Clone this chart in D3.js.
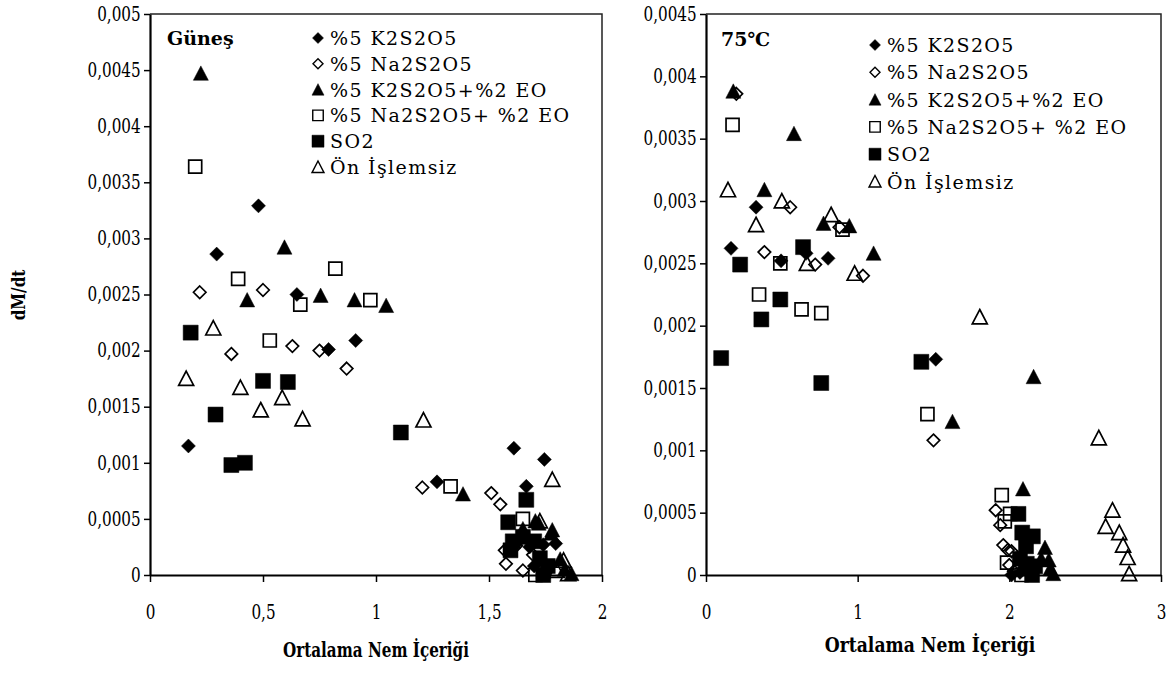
<!DOCTYPE html>
<html>
<head>
<meta charset="utf-8">
<script src="https://cdn.jsdelivr.net/npm/d3@7"></script>
<style>
  body { margin: 0; background: #fff; }
</style>
</head>
<body>
<svg id="chart" width="1173" height="673"></svg>
<script>
/*
/   Data
*/

const seriesNames = ["%5 K2S2O5", "%5 Na2S2O5", "%5 K2S2O5+%2 EO", "%5 Na2S2O5+ %2 EO", "SO2", "Ön İşlemsiz"];

// Güneş (sun dried)
const gunesK2 = [[0.17,0.00115],[0.295,0.00286],[0.48,0.00329],[0.65,0.0025],[0.79,0.00201],[0.91,0.00209],[1.27,0.00083],[1.61,0.00113],[1.745,0.00103],[1.665,0.00079],[1.795,0.00028],[1.68,0.00025],[1.74,0.00027],[1.62,0.00028],[1.7,0.00008]];
const gunesNa = [[0.22,0.00252],[0.36,0.00197],[0.5,0.00254],[0.63,0.00204],[0.75,0.002],[0.87,0.00184],[1.205,0.00078],[1.51,0.00073],[1.55,0.00063],[1.575,0.0001],[1.57,0.00022],[1.65,0.00004],[1.695,0.00018],[1.62,0.00026]];
const gunesK2EO = [[0.225,0.00446],[0.43,0.00244],[0.595,0.00291],[0.755,0.00248],[0.905,0.00244],[1.045,0.00239],[1.385,0.00071],[1.705,0.00047],[1.775,0.00036],[1.65,0.0004],[1.78,0.00039],[1.815,0.00013],[1.835,0.00004],[1.865,0],[1.72,0.00045]];
const gunesNaEO = [[0.2,0.00364],[0.39,0.00264],[0.53,0.00209],[0.665,0.00241],[0.82,0.00273],[0.975,0.00245],[1.33,0.00079],[1.65,0.0005],[1.705,0],[1.74,0.00003]];
const gunesSO2 = [[0.18,0.00216],[0.29,0.00143],[0.36,0.00098],[0.42,0.001],[0.5,0.00173],[0.61,0.00172],[1.11,0.00127],[1.665,0.00067],[1.585,0.00047],[1.605,0.0003],[1.595,0.00022],[1.65,0.00034],[1.725,0.00015],[1.74,0],[1.7,0.0003],[1.76,0.00008]];
const gunesOn = [[0.16,0.00174],[0.28,0.00219],[0.4,0.00166],[0.49,0.00146],[0.585,0.00157],[0.675,0.00138],[1.21,0.00137],[1.78,0.00084],[1.725,0.00047],[1.83,0.00012],[1.85,0],[1.8,0.00003]];

// 75℃ (oven dried)
const firinK2 = [[0.165,0.00262],[0.33,0.00295],[0.495,0.00252],[0.66,0.00258],[0.805,0.00254],[1.515,0.00173],[2.015,0],[2.07,0.00002],[2.1,0.00006]];
const firinNa = [[0.2,0.00386],[0.385,0.00259],[0.555,0.00295],[0.72,0.00249],[0.88,0.00279],[1.035,0.0024],[1.5,0.00108],[1.91,0.00052],[1.94,0.0004],[1.96,0.00024],[1.99,0.0002],[2.015,0.00019],[2.03,0.00003],[2.0,0.00008]];
const firinK2EO = [[0.18,0.00387],[0.385,0.00308],[0.58,0.00353],[0.775,0.00281],[0.945,0.00279],[1.105,0.00257],[1.625,0.00122],[2.16,0.00158],[2.09,0.00068],[2.235,0.00021],[2.21,0.00012],[2.26,0.00011],[2.27,0.00004],[2.29,0]];
const firinNaEO = [[0.175,0.00361],[0.35,0.00225],[0.49,0.0025],[0.63,0.00213],[0.76,0.0021],[0.9,0.00277],[1.46,0.00129],[1.95,0.00064],[2.005,0.00049],[1.97,0.00043],[1.985,0.0001],[2.08,0]];
const firinSO2 = [[0.1,0.00174],[0.225,0.00249],[0.365,0.00205],[0.49,0.00221],[0.64,0.00263],[0.76,0.00154],[1.42,0.00171],[2.06,0.00049],[2.085,0.00034],[2.155,0.00031],[2.11,0.00023],[2.07,0.00013],[2.17,0.00007],[2.15,0],[2.115,0.00009]];
const firinOn = [[0.145,0.00308],[0.33,0.0028],[0.5,0.00299],[0.665,0.00249],[0.825,0.00288],[0.98,0.00241],[1.805,0.00206],[2.59,0.00109],[2.68,0.00051],[2.635,0.00038],[2.725,0.00033],[2.75,0.00023],[2.78,0.00013],[2.79,0]];

const gunesXTicks = [0, 0.5, 1, 1.5, 2];
const gunesYTicks = [0, 0.0005, 0.001, 0.0015, 0.002, 0.0025, 0.003, 0.0035, 0.004, 0.0045, 0.005];
const firinXTicks = [0, 1, 2, 3];
const firinYTicks = [0, 0.0005, 0.001, 0.0015, 0.002, 0.0025, 0.003, 0.0035, 0.004, 0.0045];

/*
/   Marker styles (order = Excel series order)
*/

const markers = [
    { shape: "diamond",  filled: true  },
    { shape: "diamond",  filled: false },
    { shape: "triangle", filled: true  },
    { shape: "square",   filled: false },
    { shape: "square",   filled: true  },
    { shape: "triangle", filled: false }
];

// only serif face installed; squeezed a bit to look like Times
const serif = "DejaVu Serif";

function markerPath(shape, s)
{
    const r = s / 2;
    if (shape == "diamond") return `M0,${-r}L${r},0L0,${r}L${-r},0Z`;
    if (shape == "square") return `M${-r},${-r}h${s}v${s}h${-s}Z`;
    // triangle
    return `M0,${-0.58 * s}L${r},${0.38 * s}L${-r},${0.38 * s}Z`;
}

function markerSize(m, big)
{
    if (m.shape == "diamond") return big ? (m.filled ? 14 : 12.5) : (m.filled ? 11 : 10);
    if (m.shape == "square") return big ? (m.filled ? 15 : 13) : (m.filled ? 12 : 10.5);
    return big ? 15 : 12;
}

// text drawn at (x, y), squeezed horizontally by sx
function squeezedText(parent, x, y, sx, txt)
{
    return parent.append("text")
        .attr("transform", `translate(${x},${y}) scale(${sx},1)`)
        .attr("font-family", serif)
        .text(txt);
}

const svg = d3.select("#chart");

const fmt = (d) => d == 0 ? "0" : String(+d.toFixed(4)).replace(".", ",");

/*
/   Draw one panel
*/

function drawPanel(p)
{
    const x = d3.scaleLinear().domain(p.xDomain).range([p.left, p.right]);
    const y = d3.scaleLinear().domain(p.yDomain).range([p.bottom, p.top]);

    const g = svg.append("g");

    // frame (top and right)
    g.append("path")
        .attr("d", `M${p.left},${p.top}H${p.right}V${p.bottom}`)
        .attr("fill", "none")
        .attr("stroke", "#222")
        .attr("stroke-width", 1.5);

    const yAxis = g.append("g")
        .attr("transform", `translate(${p.left},0)`)
        .call(d3.axisLeft(y).tickValues(p.yTicks).tickFormat(fmt).tickSize(6).tickSizeOuter(0).tickPadding(6));

    const xAxis = g.append("g")
        .attr("transform", `translate(0,${p.bottom})`)
        .call(d3.axisBottom(x).tickValues(p.xTicks).tickFormat(fmt).tickSize(7).tickSizeOuter(0).tickPadding(23));

    [yAxis, xAxis].forEach(a => {
        a.attr("font-family", serif).attr("font-size", 19.5);
        a.select(".domain").attr("stroke", "#000").attr("stroke-width", 2.2);
        a.selectAll(".tick line").attr("stroke", "#000").attr("stroke-width", 1.5);
        a.selectAll("text").attr("fill", "#000").attr("transform", "scale(0.78,1)");
    });

    // points
    p.series.forEach((data, k) => {
        const m = markers[k];
        const s = markerSize(m, true);
        g.append("g")
            .selectAll("path")
            .data(data)
            .join("path")
            .attr("transform", (d) => `translate(${x(d[0])},${y(d[1])})`)
            .attr("d", markerPath(m.shape, s))
            .attr("fill", m.filled ? "#000" : "none")
            .attr("stroke", "#000")
            .attr("stroke-width", m.filled ? 0.5 : 1.7);
    });

    // panel title
    g.append("text")
        .attr("x", p.titleX)
        .attr("y", p.titleY)
        .attr("font-family", serif)
        .attr("font-weight", "bold")
        .attr("font-size", 19)
        .text(p.title);

    // legend
    const leg = g.append("g");
    seriesNames.forEach((name, k) => {
        const m = markers[k];
        const cy = p.legY + k * p.legStep;
        leg.append("path")
            .attr("transform", `translate(${p.legX},${cy + (m.shape == "triangle" ? 1 : 0)})`)
            .attr("d", markerPath(m.shape, markerSize(m, false)))
            .attr("fill", m.filled ? "#000" : "none")
            .attr("stroke", "#000")
            .attr("stroke-width", m.filled ? 0.5 : 1.4);
        leg.append("text")
            .attr("x", p.legX + 12)
            .attr("y", cy + 7)
            .attr("font-family", serif)
            .attr("font-size", 19)
            .attr("letter-spacing", 1.4)
            .text(name);
    });

    // x axis title
    squeezedText(g, p.xTitleX, p.xTitleY, p.xTitleScale, "Ortalama Nem İçeriği")
        .attr("text-anchor", "middle")
        .attr("font-weight", "bold")
        .attr("font-size", 20);
}

drawPanel({
    xDomain: [0, 2], yDomain: [0, 0.005],
    left: 150, right: 602, top: 14, bottom: 575,
    xTicks: gunesXTicks, yTicks: gunesYTicks,
    series: [gunesK2, gunesNa, gunesK2EO, gunesNaEO, gunesSO2, gunesOn],
    title: "Güneş", titleX: 167, titleY: 45,
    legX: 318, legY: 38, legStep: 25.8,
    xTitleX: 376, xTitleY: 657, xTitleScale: 0.76
});

drawPanel({
    xDomain: [0, 3], yDomain: [0, 0.0045],
    left: 706, right: 1161, top: 14, bottom: 575,
    xTicks: firinXTicks, yTicks: firinYTicks,
    series: [firinK2, firinNa, firinK2EO, firinNaEO, firinSO2, firinOn],
    title: "75℃", titleX: 721, titleY: 46,
    legX: 875, legY: 45, legStep: 27.3,
    xTitleX: 930, xTitleY: 652, xTitleScale: 0.86
});

// y axis title
svg.append("text")
    .attr("transform", "translate(25,295) rotate(-90) scale(0.8,1)")
    .attr("text-anchor", "middle")
    .attr("font-family", serif)
    .attr("font-weight", "bold")
    .attr("font-size", 19)
    .text("dM/dt");
</script>
</body>
</html>
